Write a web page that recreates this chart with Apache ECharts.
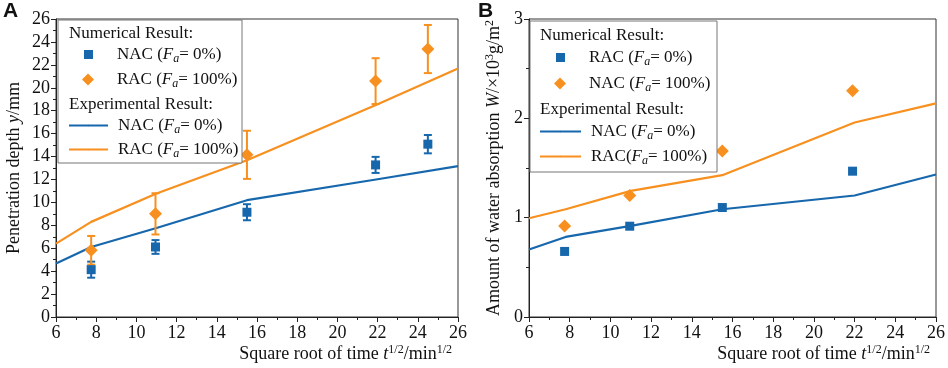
<!DOCTYPE html>
<html>
<head>
<meta charset="utf-8">
<script src="https://cdn.jsdelivr.net/npm/echarts@6/dist/echarts.min.js"></script>
<style>
  html, body { margin: 0; padding: 0; background: #fff; }
  #chart { width: 948px; height: 368px; }
</style>
</head>
<body>
<div id="chart"></div>
<script>
// panel A: penetration depth
const numXA = [7.75, 10.95, 15.5, 21.9, 24.5]
const numNacA = [4.13, 6.11, 9.14, 13.27, 15.08]
const numNacErrA = [0.7, 0.6, 0.7, 0.7, 0.8]
const numRacA = [5.82, 9.0, 14.15, 20.58, 23.38]
const numRacErrA = [1.25, 1.8, 2.1, 2.0, 2.1]
const expXA = [6, 7.75, 11, 15.5, 22, 26]
const expNacA = [4.66, 6.11, 7.77, 10.19, 12.02, 13.16]
const expRacA = [6.4, 8.3, 10.77, 13.68, 18.57, 21.69]

// panel B: water absorption
const numXB = [7.75, 10.95, 15.5, 21.9]
const numRacB = [0.66, 0.914, 1.102, 1.468]
const numNacB = [0.917, 1.223, 1.67, 2.277]
const expXB = [6, 7.8, 11, 15.5, 22, 26]
const expNacB = [0.68, 0.806, 0.917, 1.085, 1.223, 1.434]
const expRacB = [0.994, 1.085, 1.27, 1.428, 1.958, 2.15]

const xTicks = [6, 8, 10, 12, 14, 16, 18, 20, 22, 24, 26]

const BLUE = '#1767ad'
const ORANGE = '#f7901e'
const FONT = 'Liberation Serif'
const FS = 18
const LFS = 17

const chart = echarts.init(document.getElementById('chart'))

const pair = (xs, ys) => xs.map((x, i) => [x, ys[i]])
const errs = (xs, ys, es) => xs.map((x, i) => [x, ys[i] - es[i], ys[i] + es[i]])

const richText = {
  i: { fontFamily: FONT, fontSize: FS, fontStyle: 'italic', color: '#111' },
  sup: { fontFamily: FONT, fontSize: 12, color: '#111', verticalAlign: 'top', padding: [0, 0, 9, 0] },
  t: { fontFamily: FONT, fontSize: FS, color: '#111' }
}

const legendRich = {
  i: { fontFamily: FONT, fontSize: LFS, fontStyle: 'italic', color: '#111' },
  sub: { fontFamily: FONT, fontSize: 12, fontStyle: 'italic', color: '#111', verticalAlign: 'bottom', padding: [8, 0, 0, 0] },
  t: { fontFamily: FONT, fontSize: LFS, color: '#111' }
}

const labels = {
  A_num_nac: '{t|NAC (}{i|F}{sub|a}{t|= 0%)}',
  A_num_rac: '{t|RAC (}{i|F}{sub|a}{t|= 100%)}',
  A_exp_nac: '{t|NAC (}{i|F}{sub|a}{t|= 0%)}',
  A_exp_rac: '{t|RAC (}{i|F}{sub|a}{t|= 100%)}',
  B_num_rac: '{t|RAC (}{i|F}{sub|a}{t|= 0%)}',
  B_num_nac: '{t|NAC (}{i|F}{sub|a}{t|= 100%)}',
  B_exp_nac: '{t|NAC (}{i|F}{sub|a}{t|= 0%)}',
  B_exp_rac: '{t|RAC(}{i|F}{sub|a}{t|= 100%)}'
}

function legendItem(name, left, centerY, w, h, padLeft) {
  return {
    data: [name],
    left: left,
    top: centerY - 9,
    z: 8,
    orient: 'vertical',
    itemWidth: w,
    itemHeight: h,
    itemGap: 0,
    padding: 0,
    selectedMode: false,
    formatter: n => labels[n],
    textStyle: { fontFamily: FONT, fontSize: LFS, color: '#111', padding: [0, 0, 0, padLeft], rich: legendRich }
  }
}

function xAxisCfg(gridIndex) {
  return {
    gridIndex: gridIndex,
    type: 'value',
    min: 6, max: 26, interval: 2,
    name: '{t|Square root of time }{i|t}{sup|1/2}{t|/min}{sup|1/2}',
    nameLocation: 'end',
    nameGap: -6,
    nameTextStyle: { align: 'right', verticalAlign: 'top', padding: [27, 0, 0, 0], rich: richText },
    axisLine: { lineStyle: { color: '#222', width: 1 } },
    axisTick: { inside: false, length: 5, lineStyle: { color: '#222' } },
    minorTick: { show: true, splitNumber: 2, length: 3, lineStyle: { color: '#222' } },
    axisLabel: { fontFamily: FONT, fontSize: FS, color: '#111', margin: 7,
      formatter: v => xTicks.includes(v) ? String(v) : '' },
    splitLine: { show: false }
  }
}

function yAxisCfg(gridIndex, max, interval, name, gap) {
  return {
    gridIndex: gridIndex,
    type: 'value',
    min: 0, max: max, interval: interval,
    name: name,
    nameLocation: 'middle',
    nameGap: gap,
    nameRotate: 90,
    nameTextStyle: { rich: richText },
    axisLine: { show: true, lineStyle: { color: '#222', width: 1 } },
    axisTick: { show: true, inside: false, length: 5, lineStyle: { color: '#222' } },
    minorTick: { show: true, splitNumber: 2, length: 3, lineStyle: { color: '#222' } },
    axisLabel: { fontFamily: FONT, fontSize: FS, color: '#111', margin: 6 },
    splitLine: { show: false }
  }
}

function errorBars(name, xi, yi, data, color) {
  return {
    name: name,
    type: 'custom',
    xAxisIndex: xi, yAxisIndex: yi,
    z: 2,
    silent: true,
    data: data,
    renderItem: (params, api) => {
      const x = api.value(0)
      const lo = api.coord([x, api.value(1)])
      const hi = api.coord([x, api.value(2)])
      const cap = 4
      const st = { stroke: color, lineWidth: 2 }
      return {
        type: 'group',
        children: [
          { type: 'line', shape: { x1: lo[0], y1: lo[1], x2: hi[0], y2: hi[1] }, style: st },
          { type: 'line', shape: { x1: lo[0] - cap, y1: lo[1], x2: lo[0] + cap, y2: lo[1] }, style: st },
          { type: 'line', shape: { x1: hi[0] - cap, y1: hi[1], x2: hi[0] + cap, y2: hi[1] }, style: st }
        ]
      }
    }
  }
}

function scatter(name, xi, yi, data, symbol, size, color) {
  return {
    name: name, type: 'scatter', xAxisIndex: xi, yAxisIndex: yi,
    data: data, symbol: symbol, symbolSize: size, z: 3,
    itemStyle: { color: color, opacity: 1 }
  }
}

function line(name, xi, yi, data, color) {
  return {
    name: name, type: 'line', xAxisIndex: xi, yAxisIndex: yi,
    data: data, symbol: 'none', z: 1,
    lineStyle: { color: color, width: 2.2 },
    itemStyle: { color: color }
  }
}

const header = (text, x, y) => ({
  type: 'text', left: x, top: y - 9, z: 10,
  style: { text: text, fontFamily: FONT, fontSize: LFS, fill: '#111' }
})

const option = {
  animation: false,
  backgroundColor: '#fff',
  grid: [
    { left: 56, top: 19, width: 402, height: 298, show: true, borderColor: '#333', borderWidth: 1 },
    { left: 529, top: 19, width: 409, height: 298, show: true, borderColor: '#333', borderWidth: 1 }
  ],
  xAxis: [xAxisCfg(0), xAxisCfg(1)],
  yAxis: [
    yAxisCfg(0, 26, 2, '{t|Penetration depth }{i|y}{t|/mm}', 33),
    yAxisCfg(1, 3, 1, '{t|Amount of water absorption }{i|W}{t|/×10}{sup|3}{t|g/m}{sup|2}', 24)
  ],
  legend: [
    legendItem('A_num_nac', 84, 55, 9, 9, 19),
    legendItem('A_num_rac', 82, 80, 12, 12, 18),
    legendItem('A_exp_nac', 68, 126, 39, 2, 5),
    legendItem('A_exp_rac', 68, 150, 39, 2, 5),
    legendItem('B_num_rac', 556, 58, 9, 9, 19),
    legendItem('B_num_nac', 554, 84, 12, 12, 18),
    legendItem('B_exp_nac', 539, 132, 41, 2, 5),
    legendItem('B_exp_rac', 539, 157, 41, 2, 5)
  ],
  graphic: [
    { type: 'rect', shape: { x: 58, y: 20, width: 184, height: 143 }, z: 4,
      style: { fill: '#fff', stroke: '#777', lineWidth: 1 } },
    { type: 'rect', shape: { x: 530, y: 21, width: 187, height: 151 }, z: 4,
      style: { fill: '#fff', stroke: '#777', lineWidth: 1 } },
    header('Numerical Result:', 69, 34),
    header('Experimental Result:', 69, 105),
    header('Numerical Result:', 540, 36),
    header('Experimental Result:', 540, 110),
    { type: 'text', left: 3, top: 1, z: 10,
      style: { text: 'A', fontFamily: 'Liberation Sans', fontWeight: 'bold', fontSize: 21, fill: '#111' } },
    { type: 'text', left: 478, top: 1, z: 10,
      style: { text: 'B', fontFamily: 'Liberation Sans', fontWeight: 'bold', fontSize: 21, fill: '#111' } }
  ],
  series: [
    line('A_exp_nac', 0, 0, pair(expXA, expNacA), BLUE),
    line('A_exp_rac', 0, 0, pair(expXA, expRacA), ORANGE),
    errorBars('A_err_nac', 0, 0, errs(numXA, numNacA, numNacErrA), BLUE),
    errorBars('A_err_rac', 0, 0, errs(numXA, numRacA, numRacErrA), ORANGE),
    scatter('A_num_nac', 0, 0, pair(numXA, numNacA), 'rect', 9, BLUE),
    scatter('A_num_rac', 0, 0, pair(numXA, numRacA), 'diamond', 13, ORANGE),
    line('B_exp_nac', 1, 1, pair(expXB, expNacB), BLUE),
    line('B_exp_rac', 1, 1, pair(expXB, expRacB), ORANGE),
    scatter('B_num_rac', 1, 1, pair(numXB, numRacB), 'rect', 9, BLUE),
    scatter('B_num_nac', 1, 1, pair(numXB, numNacB), 'diamond', 13, ORANGE)
  ]
}

chart.setOption(option)
</script>
</body>
</html>
